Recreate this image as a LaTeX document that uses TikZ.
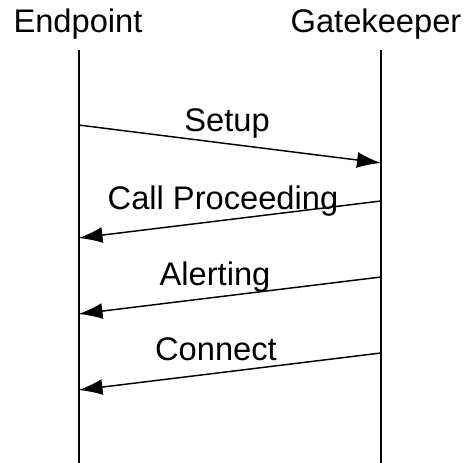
\documentclass[tikz,border=0pt]{standalone}
\usepackage{fontspec}
\setmainfont{Liberation Sans}
\usetikzlibrary{arrows.meta}

\begin{document}
\begin{tikzpicture}[x=0.75pt, y=-0.75pt,
                    every node/.style={font=\fontsize{24.5}{28}\selectfont, inner sep=0pt, anchor=base},
                    lifeline/.style={draw, line width=1.5pt},
                    msg/.style={draw, line width=1.1pt, -{Latex[length=18pt, width=12pt]}}]

                    \useasboundingbox (0,0) rectangle (469,463);

                    % Participants
                    \node (EP) at (78, 33) {Endpoint};   % Left title
                    \node (GK) at (376, 33) {Gatekeeper}; % Right title

                    % Lifelines
                    \coordinate (EPtop) at (78.5, 50);
                    \coordinate (EPbot) at (78.5, 463);
                    \coordinate (GKtop) at (381, 50);
                    \coordinate (GKbot) at (381, 463);
                    \draw[lifeline] (EPtop) -- (EPbot);
                    \draw[lifeline] (GKtop) -- (GKbot);

                    % Message end points on the lifelines
                    \coordinate (s1) at (78.5, 125);  \coordinate (e1) at (381, 163);
                    \coordinate (s2) at (381, 201);   \coordinate (e2) at (78.5, 238);
                    \coordinate (s3) at (381, 277);   \coordinate (e3) at (78.5, 314);
                    \coordinate (s4) at (381, 353);   \coordinate (e4) at (78.5, 390);

                    % Messages
                    \draw[msg] (s1) -- (e1);
                    \draw[msg] (s2) -- (e2);
                    \draw[msg] (s3) -- (e3);
                    \draw[msg] (s4) -- (e4);

                    % Message labels
                    \node (setup) at (227, 132) {Setup};
                    \node (proc) at (223, 210) {Call Proceeding};
                    \node (alert) at (215, 286) {Alerting};
                    \node (conn) at (216, 361) {Connect};
                \end{tikzpicture}
\end{document}
